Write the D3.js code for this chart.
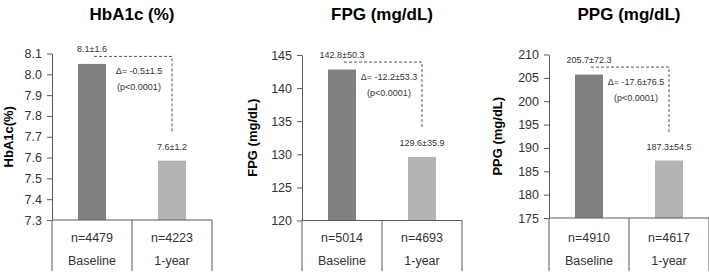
<!DOCTYPE html>
<html>
<head>
<meta charset="utf-8">
<script src="https://cdn.jsdelivr.net/npm/d3@7"></script>
<style>
  html, body { margin: 0; padding: 0; background: #fff; }
  svg { display: block; font-family: "Liberation Sans", Arial, sans-serif; }
</style>
</head>
<body>
<svg id="chart" width="709" height="276"></svg>
<script>
// ---- data ----
const categories = ["Baseline", "1-year"];
const titles = ["HbA1c (%)", "FPG (mg/dL)", "PPG (mg/dL)"];
const yLabels = ["HbA1c(%)", "FPG (mg/dL)", "PPG (mg/dL)"];
const baselineValues = [8.05, 142.8, 205.7];
const oneYearValues = [7.585, 129.6, 187.3];
const baselineLabels = ["8.1±1.6", "142.8±50.3", "205.7±72.3"];
const oneYearLabels = ["7.6±1.2", "129.6±35.9", "187.3±54.5"];
const deltaLabels = ["Δ= -0.5±1.5", "Δ= -12.2±53.3", "Δ= -17.6±76.5"];
const pLabels = ["(p<0.0001)", "(p<0.0001)", "(p<0.0001)"];
const baselineN = ["n=4479", "n=5014", "n=4910"];
const oneYearN = ["n=4223", "n=4693", "n=4617"];
const yMins = [7.3, 120, 175];
const yMaxs = [8.1, 145, 210];
const yTickSteps = [0.1, 5, 5];
const yTickFormats = [".1f", "d", "d"];

// ---- layout (style) ----
const axisX = [52, 302, 549];
const plotTop = [53.5, 55, 54.5];
const plotBottom = [220, 220.5, 218];
const bandW = 80;
const yLabelX = [8, 252, 497];
const axisColor = "#5a5a5a";
const textColor = "#333";
const barColors = ["#808080", "#b4b4b4"];

const svg = d3.select("#chart");

titles.forEach((title, i) => {
  const g = svg.append("g");
  const x0 = axisX[i];
  const x = d3.scaleBand().domain(categories).range([x0, x0 + bandW * 2]).paddingInner(0).paddingOuter(0);
  const y = d3.scaleLinear().domain([yMins[i], yMaxs[i]]).range([plotBottom[i], plotTop[i]]);
  const barW = 28;
  const cx = c => x(c) + x.bandwidth() / 2;

  // title
  g.append("text")
    .attr("x", x0 + bandW).attr("y", 20)
    .attr("text-anchor", "middle")
    .attr("font-size", 17).attr("font-weight", "bold").attr("fill", "#000")
    .text(title);

  // y label
  const midY = (plotTop[i] + plotBottom[i]) / 2;
  g.append("text")
    .attr("transform", `translate(${yLabelX[i] + 5},${midY}) rotate(-90)`)
    .attr("text-anchor", "middle")
    .attr("font-size", 13).attr("font-weight", "bold").attr("fill", "#000")
    .text(yLabels[i]);

  // y axis
  const n = Math.round((yMaxs[i] - yMins[i]) / yTickSteps[i]);
  const ticks = d3.range(n + 1).map(k => +(yMins[i] + k * yTickSteps[i]).toFixed(3));
  const yAxis = d3.axisLeft(y).tickValues(ticks).tickFormat(d3.format(yTickFormats[i])).tickSize(5).tickPadding(5).tickSizeOuter(0);
  const ya = g.append("g").attr("transform", `translate(${x0},0)`).call(yAxis);
  ya.selectAll("path, line").attr("stroke", axisColor);
  ya.selectAll("text").attr("font-size", 12.5).attr("fill", textColor).attr("font-family", "Liberation Sans, Arial, sans-serif");

  // bars
  const vals = [baselineValues[i], oneYearValues[i]];
  g.selectAll("rect.bar").data(categories).enter().append("rect")
    .attr("x", c => cx(c) - barW / 2)
    .attr("width", barW)
    .attr("y", (c, k) => y(vals[k]))
    .attr("height", (c, k) => y(yMins[i]) - y(vals[k]))
    .attr("fill", (c, k) => barColors[k]);

  // x axis line + table separators
  const bottomY = y(yMins[i]);
  g.append("line").attr("x1", x0).attr("x2", x0 + bandW * 2).attr("y1", bottomY).attr("y2", bottomY)
    .attr("stroke", axisColor).attr("stroke-width", 1);
  const seps = [x0, x(categories[1]), x0 + bandW * 2];
  seps.forEach(sx => {
    g.append("line").attr("x1", sx).attr("x2", sx).attr("y1", bottomY).attr("y2", 271)
      .attr("stroke", axisColor).attr("stroke-width", 1);
  });

  // category labels
  const nLab = [baselineN[i], oneYearN[i]];
  categories.forEach((c, k) => {
    g.append("text").attr("x", cx(c)).attr("y", 241.5).attr("text-anchor", "middle")
      .attr("font-size", 12.5).attr("fill", textColor).text(nLab[k]);
    g.append("text").attr("x", cx(c)).attr("y", 264.5).attr("text-anchor", "middle")
      .attr("font-size", 12.5).attr("fill", textColor).text(c);
  });

  // value labels
  const vLab = [baselineLabels[i], oneYearLabels[i]];
  const topB = y(vals[0]), topO = y(vals[1]);
  g.append("text").attr("x", cx(categories[0])).attr("y", topB - 12).attr("text-anchor", "middle")
    .attr("font-size", 9).attr("fill", textColor).text(vLab[0]);
  g.append("text").attr("x", cx(categories[1])).attr("y", topO - 11).attr("text-anchor", "middle")
    .attr("font-size", 9).attr("fill", textColor).text(vLab[1]);

  // dashed bracket
  const by = topB - 7.5;
  const bx1 = cx(categories[0]) + 2;
  const bx2 = cx(categories[1]);
  const endY = topO - 28;
  g.append("path")
    .attr("d", `M${bx1},${by}H${bx2}V${endY}`)
    .attr("fill", "none").attr("stroke", "#555").attr("stroke-width", 1)
    .attr("stroke-dasharray", "3,2");

  // delta annotation
  const dx = (bx1 + bx2) / 2 + 6;
  g.append("text").attr("x", dx).attr("y", by + 18).attr("text-anchor", "middle")
    .attr("font-size", 9).attr("fill", textColor).text(deltaLabels[i]);
  g.append("text").attr("x", dx).attr("y", by + 34).attr("text-anchor", "middle")
    .attr("font-size", 9).attr("fill", textColor).text(pLabels[i]);
});
</script>
</body>
</html>
